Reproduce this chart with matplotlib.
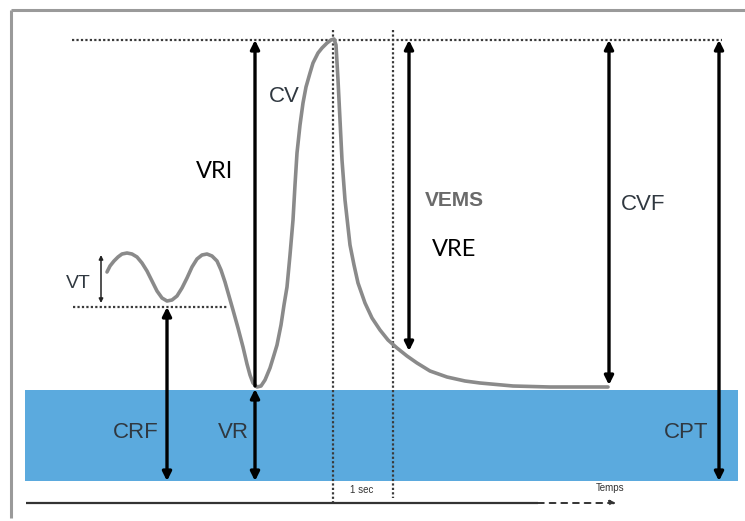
import matplotlib
matplotlib.use("Agg")
import matplotlib.pyplot as plt
from matplotlib.patches import Rectangle

courbe_x = [107, 110, 114, 118, 122, 127, 132, 137, 142, 147, 152, 157, 162, 167,
            172, 177, 182, 187, 192, 197, 202, 207, 212, 217, 221, 225, 229, 233,
            238, 243, 247, 250, 253, 257, 261, 265, 270, 274, 277, 281, 284, 287,
            290, 293, 295, 297, 300, 303, 306, 310, 313, 318, 322, 327, 331, 334,
            336, 338, 340, 342, 345, 350, 354, 358, 365, 372, 380, 388, 397, 407,
            417, 430, 447, 465, 480, 513, 550, 608]
courbe_y = [272, 266, 261, 257, 254, 253, 254, 257, 263, 271, 281, 291, 298, 301,
            300, 296, 288, 278, 267, 259, 255, 254, 256, 261, 270, 282, 296, 310,
            328, 347, 364, 375, 383, 387, 386, 380, 368, 355, 345, 325, 305, 287,
            255, 220, 185, 153, 125, 103, 87, 73, 63, 53, 48, 43, 40, 39,
            45, 80, 120, 160, 200, 245, 265, 283, 303, 318, 330, 340, 348, 356,
            363, 371, 377, 381, 383, 386, 387, 387]

# fleches : x, y_haut, y_bas, style
fleches_x = [255, 409, 609, 719, 167, 255]
fleches_haut = [40, 40, 40, 40, 307, 389]
fleches_bas = [386, 351, 385, 481, 481, 481]
fleches_tetes = ['-|>', '<|-|>', '<|-|>', '<|-|>', '<|-|>', '<|-|>']

# etiquettes
etiquettes = ['CV', 'VEMS', 'CVF', 'CPT', 'CRF', 'VR', 'VT']
etiq_x = [284, 454, 643, 686, 136, 233, 78]
etiq_y = [97, 200, 204, 432, 433, 433, 284]
etiq_taille = [16, 15, 16, 16, 16, 16, 14]

etiquettes2 = ['VRI', 'VRE']
etiq2_x = [215, 454]
etiq2_y = [172, 249]

fig = plt.figure(figsize=(7.45, 5.21), dpi=100)
ax = fig.add_axes([0, 0, 1, 1])
ax.set_xlim(0, 745)
ax.set_ylim(521, 0)
ax.axis('off')

# cadre
ax.plot([11, 745], [10, 10], color='#9a9a9a', lw=2.2, solid_capstyle='butt')
ax.plot([11, 11], [10, 518], color='#9a9a9a', lw=2.2, solid_capstyle='butt')

# zone bleue
ax.add_patch(Rectangle((25, 390), 713, 91, facecolor='#5baade', edgecolor='none', zorder=1))

# pointilles
pointille = dict(color='#3a3a3a', lw=1.6, ls=(0, (1, 1)), zorder=2)
ax.plot([72, 722], [40, 40], **pointille)
ax.plot([73, 228], [307, 307], **pointille)
ax.plot([333, 333], [30, 504], **pointille)
ax.plot([393, 393], [30, 498], **pointille)

# courbe
ax.plot(courbe_x, courbe_y, color='#8a8a8a', lw=2.6, zorder=3,
        solid_capstyle='round', solid_joinstyle='round')

# fleches
for x, y0, y1, st in zip(fleches_x, fleches_haut, fleches_bas, fleches_tetes):
    ax.annotate('', xy=(x, y0), xytext=(x, y1),
                arrowprops=dict(arrowstyle=st, color='black', lw=2.4,
                                mutation_scale=13, shrinkA=0, shrinkB=0),
                zorder=4)
ax.annotate('', xy=(101, 255), xytext=(101, 303),
            arrowprops=dict(arrowstyle='<|-|>', color='#222222', lw=1.1,
                            mutation_scale=6, shrinkA=0, shrinkB=0))

for t, x, y, s in zip(etiquettes, etiq_x, etiq_y, etiq_taille):
    c = '#6a6a6a' if t == 'VEMS' else '#303840'
    w = 'bold' if t == 'VEMS' else 'normal'
    ax.text(x, y, t, ha='center', va='center', fontsize=s, color=c,
            family='Liberation Sans', fontweight=w, zorder=5)
for t, x, y in zip(etiquettes2, etiq2_x, etiq2_y):
    ax.text(x, y, t, ha='center', va='center', fontsize=17, color='black',
            family='Lato', zorder=5)

# axe du temps
ax.plot([26, 538], [503, 503], color='#333333', lw=1.6, solid_capstyle='butt')
ax.annotate('', xy=(616, 503), xytext=(538, 503),
            arrowprops=dict(arrowstyle='-|>', color='#333333', lw=1.4,
                            ls=(0, (3, 3)), mutation_scale=8, shrinkA=0, shrinkB=0))
ax.text(362, 490, '1 sec', ha='center', va='center', fontsize=7, color='#333333',
        family='Liberation Sans')
ax.text(610, 488, 'Temps', ha='center', va='center', fontsize=7, color='#333333',
        family='Liberation Sans')

fig.savefig('out.png', dpi=100)
